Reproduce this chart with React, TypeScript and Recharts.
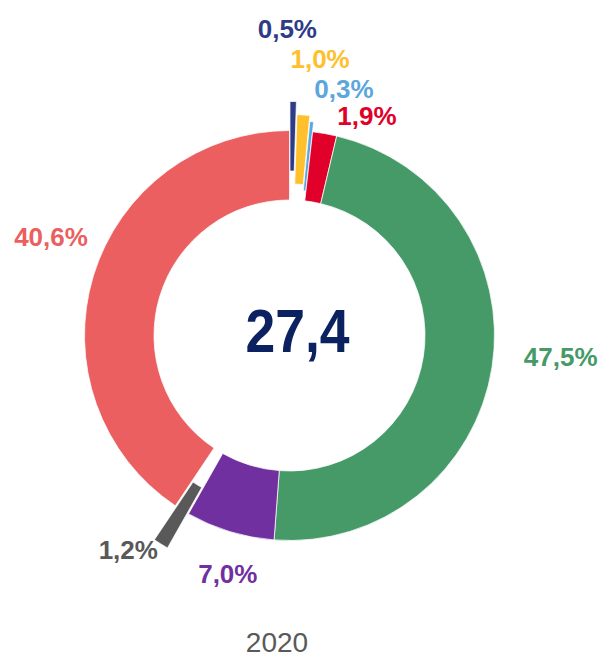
import React from 'react';
import { PieChart, Pie, Cell, Sector, Label } from 'recharts';

// ---- data ----
const categories = ['Segment 1', 'Segment 2', 'Segment 3', 'Segment 4', 'Segment 5', 'Segment 6', 'Segment 7', 'Segment 8'];
const shares = [0.5, 1.0, 0.3, 1.9, 47.5, 7.0, 1.2, 40.6];
const totalLabel = '27,4';
const yearLabel = '2020';

// ---- styles ----
const colors = ['#2e3c87', '#fec02d', '#5ba6dd', '#e0002a', '#459a68', '#7030a0', '#595959', '#eb5f60'];
const explode = [29, 16, 10, 0, 0, 0, 40, 0];
const labelRadius = [307, 279, 253, 233, 272, 246, 268, 258];
const labelAngleShift = [-1.3, 2.7, 6.5, 9.5, -4.3, -2.4, 5.3, 5.5];

const FONT = '"Liberation Sans", Arial, sans-serif';
const RAD = Math.PI / 180;

const data = categories.map((name, i) => ({ name, value: shares[i] }));

const fmt = (v: number) => v.toFixed(1).replace('.', ',') + '%';

const renderSlice = (props: any) => {
  const idx = typeof props.index === 'number' ? props.index : categories.indexOf(props.name ?? props.payload?.name);
  const off = explode[idx] ?? 0;
  const a = -props.midAngle * RAD;
  return <Sector {...props} cx={props.cx + off * Math.cos(a)} cy={props.cy + off * Math.sin(a)} />;
};

const renderLabel = (props: any) => {
  const { cx, cy, midAngle, index } = props;
  const r = labelRadius[index];
  const ang = (midAngle - labelAngleShift[index]) * RAD;
  const x = cx + r * Math.cos(-ang);
  const y = cy + r * Math.sin(-ang);
  return (
    <text
      key={`lbl-${index}`}
      x={x}
      y={y}
      dy="0.36em"
      textAnchor="middle"
      fill={colors[index]}
      fontFamily={FONT}
      fontWeight="bold"
      fontSize={26}
    >
      {fmt(shares[index])}
    </text>
  );
};

const renderCenter = (p: any) => {
  const vb = p.viewBox || {};
  const cx = vb.cx ?? 289.5;
  const cy = vb.cy ?? 335.5;
  return (
    <text
      x={cx + 8}
      y={cy + 16}
      textAnchor="middle"
      fill="#0b2160"
      fontFamily={FONT}
      fontWeight="bold"
      fontSize={62}
      textLength={104}
      lengthAdjust="spacingAndGlyphs"
    >
      {totalLabel}
    </text>
  );
};

export default function App() {
  return (
    <div style={{ position: 'absolute', left: 0, top: 0, width: 603, height: 661, background: '#fff' }}>
      <PieChart width={603} height={661} margin={{ top: 0, right: 0, bottom: 0, left: 0 }}>
        <Pie
          data={data}
          dataKey="value"
          nameKey="name"
          cx={289.5}
          cy={335.5}
          innerRadius={135.5}
          outerRadius={205}
          startAngle={90}
          endAngle={-270}
          stroke="#ffffff"
          strokeWidth={0.75}
          labelLine={false}
          label={renderLabel}
          shape={renderSlice}
          isAnimationActive={false}
        >
          {data.map((d, i) => (
            <Cell key={d.name} fill={colors[i]} />
          ))}
          <Label position="center" content={renderCenter} />
        </Pie>
      </PieChart>
      <svg width={603} height={661} style={{ position: 'absolute', left: 0, top: 0, pointerEvents: 'none' }}>
        <text x={277} y={652} textAnchor="middle" fill="#595959" fontFamily={FONT} fontSize={28}>
          {yearLabel}
        </text>
      </svg>
    </div>
  );
}
